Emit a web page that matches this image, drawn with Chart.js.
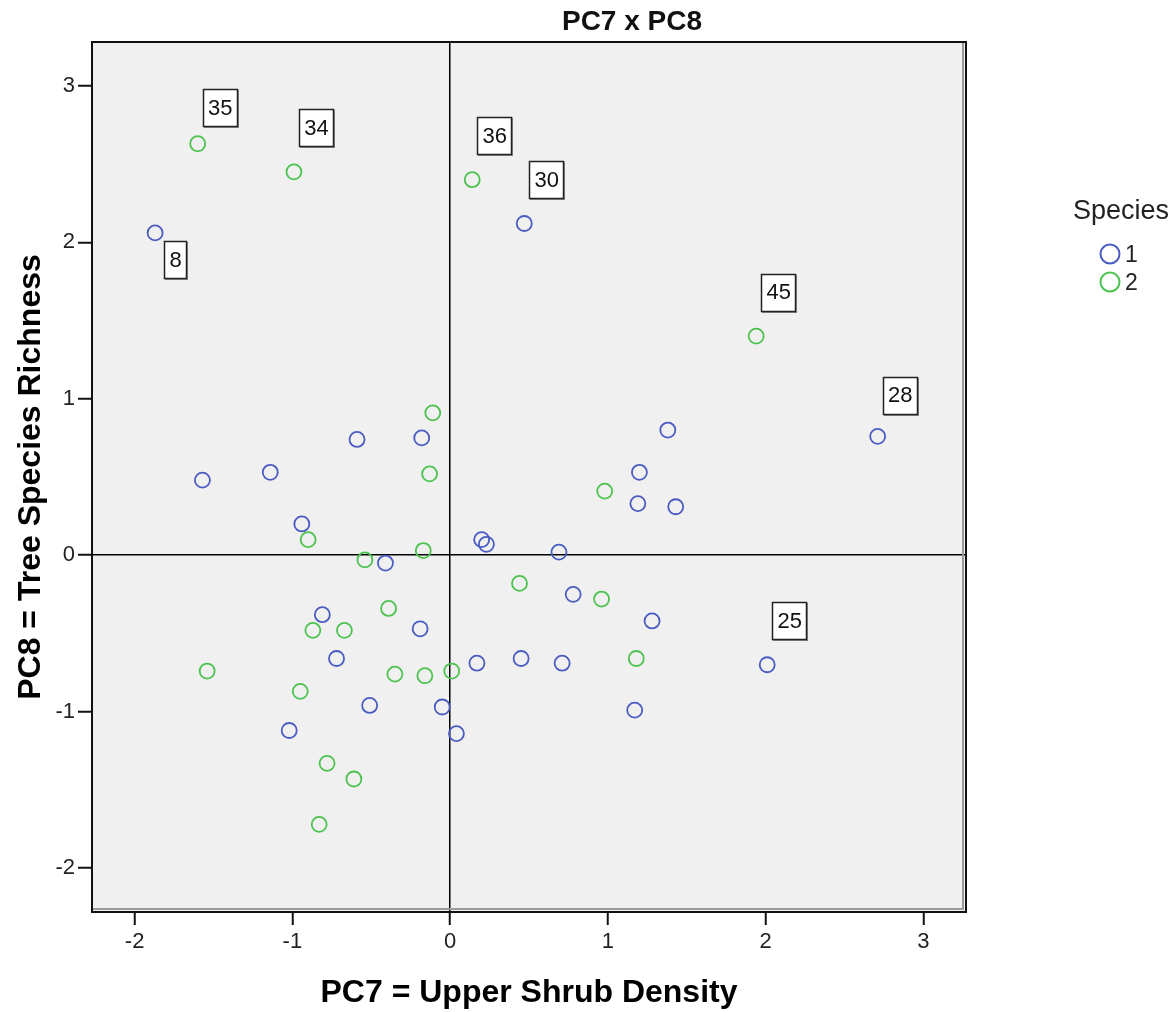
<!DOCTYPE html>
<html>
<head>
<meta charset="utf-8">
<title>PC7 x PC8</title>
<script src="https://cdn.jsdelivr.net/npm/chart.js@4.4.1/dist/chart.umd.min.js"></script>
<style>
  html, body { margin:0; padding:0; background:#fff; }
</style>
</head>
<body>
<canvas id="pcChart" width="1175" height="1012"></canvas>
<script>
var xTicks = [-2, -1, 0, 1, 2, 3];
var yTicks = [-2, -1, 0, 1, 2, 3];

// Species 1 scores (PC7, PC8) and case numbers for labelled outliers
var sp1X = [-1.87, 0.47, -0.59, -0.18, -1.57, -1.14, -0.94, -0.41, 0.20, 0.23,
            0.69, 1.38, 1.20, 1.19, 1.43, 2.71, 0.78, 1.28, -0.81, -0.19,
            -0.72, 0.17, 0.45, 0.71, 2.01, -0.51, -0.05, 1.17, -1.02, 0.04];
var sp1Y = [2.06, 2.12, 0.74, 0.75, 0.48, 0.53, 0.20, -0.05, 0.10, 0.07,
            0.02, 0.80, 0.53, 0.33, 0.31, 0.76, -0.25, -0.42, -0.38, -0.47,
            -0.66, -0.69, -0.66, -0.69, -0.70, -0.96, -0.97, -0.99, -1.12, -1.14];
var sp1Case = ['8', '30', '', '', '', '', '', '', '', '',
               '', '', '', '', '', '28', '', '', '', '',
               '', '', '', '', '25', '', '', '', '', ''];

// Species 2
var sp2X = [-1.60, -0.99, 0.14, 1.94, -0.11, -0.13, -0.90, -0.54, -0.17, 0.98,
            0.44, 0.96, -0.39, -0.87, -0.67, 1.18, -1.54, -0.35, -0.16, 0.01,
            -0.95, -0.78, -0.61, -0.83];
var sp2Y = [2.63, 2.45, 2.40, 1.40, 0.91, 0.52, 0.10, -0.03, 0.03, 0.41,
            -0.18, -0.28, -0.34, -0.48, -0.48, -0.66, -0.74, -0.76, -0.77, -0.74,
            -0.87, -1.33, -1.43, -1.72];
var sp2Case = ['35', '34', '36', '45', '', '', '', '', '', '',
               '', '', '', '', '', '', '', '', '', '',
               '', '', '', ''];

var speciesNames = ['1', '2'];
var speciesColors = ['#4a5bc2', '#4cc24f'];

var FONT = '"Liberation Sans", Arial, sans-serif';

function toPoints(xs, ys, ids) {
    return xs.map(function (x, i) { return { x: x, y: ys[i], id: ids[i] }; });
}

function zeroOnly(ctx) {
    return ctx.tick && ctx.tick.value === 0 ? '#000' : 'rgba(0,0,0,0)';
}

// grey panel behind the points
var panelBg = {
    id: 'panelBg',
    beforeDraw: function (chart) {
        var a = chart.chartArea, ctx = chart.ctx;
        ctx.save();
        ctx.fillStyle = '#f0f0f0';
        ctx.fillRect(a.left, a.top, a.right - a.left, a.bottom - a.top);
        ctx.restore();
    }
};

// frame, case-number boxes, title and legend
var overlay = {
    id: 'overlay',
    afterDatasetsDraw: function (chart, args, opts) {
        var ctx = chart.ctx, a = chart.chartArea;
        var xs = chart.scales.x, ys = chart.scales.y;
        ctx.save();

        // frame with a soft inner shade on bottom/right
        ctx.strokeStyle = '#9a9a9a';
        ctx.lineWidth = 2;
        ctx.beginPath();
        ctx.moveTo(a.left, a.bottom - 3); ctx.lineTo(a.right - 3, a.bottom - 3);
        ctx.lineTo(a.right - 3, a.top);
        ctx.stroke();
        ctx.strokeStyle = '#111';
        ctx.lineWidth = 2;
        ctx.strokeRect(a.left, a.top, a.right - a.left, a.bottom - a.top);

        // labelled cases
        ctx.font = '22px ' + FONT;
        ctx.textAlign = 'center';
        ctx.textBaseline = 'middle';
        chart.data.datasets.forEach(function (ds) {
            ds.data.forEach(function (p) {
                if (!p.id) return;
                var off = opts.offsets[p.id] || opts.offset;
                var cx = xs.getPixelForValue(p.x) + off[0];
                var cy = ys.getPixelForValue(p.y) + off[1];
                var w = Math.round(ctx.measureText(p.id).width) + 10, h = 37;
                var bx = Math.round(cx - w / 2), by = Math.round(cy - h / 2);
                ctx.fillStyle = '#8c8c8c';
                ctx.fillRect(bx + 1, by + 1, w + 1, h + 1);
                ctx.fillStyle = '#fff';
                ctx.fillRect(bx, by, w, h);
                ctx.strokeStyle = '#222';
                ctx.lineWidth = 1.5;
                ctx.strokeRect(bx + 0.5, by + 0.5, w, h);
                ctx.fillStyle = '#111';
                ctx.fillText(p.id, cx + 0.5, cy + 1);
            });
        });

        // title
        ctx.font = 'bold 28px ' + FONT;
        ctx.fillStyle = '#111';
        ctx.fillText('PC7 x PC8', 632, 22);

        // legend
        ctx.font = '27px ' + FONT;
        ctx.fillStyle = '#222';
        ctx.fillText('Species', 1121, 212);
        ctx.textAlign = 'left';
        ctx.font = '23px ' + FONT;
        speciesNames.forEach(function (n, i) {
            var ly = 254 + i * 28;
            ctx.beginPath();
            ctx.arc(1110, ly, 9.5, 0, Math.PI * 2);
            ctx.strokeStyle = speciesColors[i];
            ctx.lineWidth = 2;
            ctx.stroke();
            ctx.fillStyle = '#222';
            ctx.fillText(n, 1125, ly + 2);
        });
        ctx.restore();
    }
};

function scatterSet(label, pts, color) {
    return {
        label: label, data: pts,
        borderColor: color, backgroundColor: 'rgba(0,0,0,0)',
        pointStyle: 'circle', pointRadius: 7.5, pointHoverRadius: 7.5,
        pointBorderWidth: 1.8
    };
}

new Chart(document.getElementById('pcChart'), {
    type: 'scatter',
    data: {
        datasets: [
            scatterSet(speciesNames[0], toPoints(sp1X, sp1Y, sp1Case), speciesColors[0]),
            scatterSet(speciesNames[1], toPoints(sp2X, sp2Y, sp2Case), speciesColors[1])
        ]
    },
    options: {
        responsive: false, animation: false,
        layout: { padding: { top: 42, right: 209, left: 0, bottom: 0 } },
        plugins: {
            legend: { display: false }, tooltip: { enabled: false },
            overlay: { offset: [22, -44], offsets: { '8': [20, 27], '35': [22, -36], '28': [22, -41] } }
        },
        scales: {
            x: {
                type: 'linear', position: 'bottom', min: -2.27, max: 3.27,
                afterBuildTicks: function (s) { s.ticks = xTicks.map(function (v) { return { value: v }; }); },
                afterFit: function (s) { s.height = 100; },
                grid: { color: zeroOnly, lineWidth: 1.5, tickLength: 13, tickWidth: 2, tickColor: '#111' },
                border: { display: false },
                ticks: { font: { size: 22, family: FONT }, color: '#222', padding: 4, maxRotation: 0 },
                title: { display: true, text: 'PC7 = Upper Shrub Density', color: '#000',
                         font: { size: 32, weight: 'bold', family: FONT }, padding: { top: 0, bottom: 0 } }
            },
            y: {
                type: 'linear', position: 'left', min: -2.28, max: 3.28,
                afterBuildTicks: function (s) { s.ticks = yTicks.map(function (v) { return { value: v }; }); },
                afterFit: function (s) { s.width = 92; },
                grid: { color: zeroOnly, lineWidth: 1.5, tickLength: 14, tickWidth: 2, tickColor: '#111' },
                border: { display: false },
                ticks: { font: { size: 22, family: FONT }, color: '#222', padding: 3 },
                title: { display: true, text: 'PC8 = Tree Species Richness', color: '#000',
                         font: { size: 32, weight: 'bold', family: FONT }, padding: { top: 12, bottom: 0 } }
            }
        }
    },
    plugins: [panelBg, overlay]
});
</script>
</body>
</html>
